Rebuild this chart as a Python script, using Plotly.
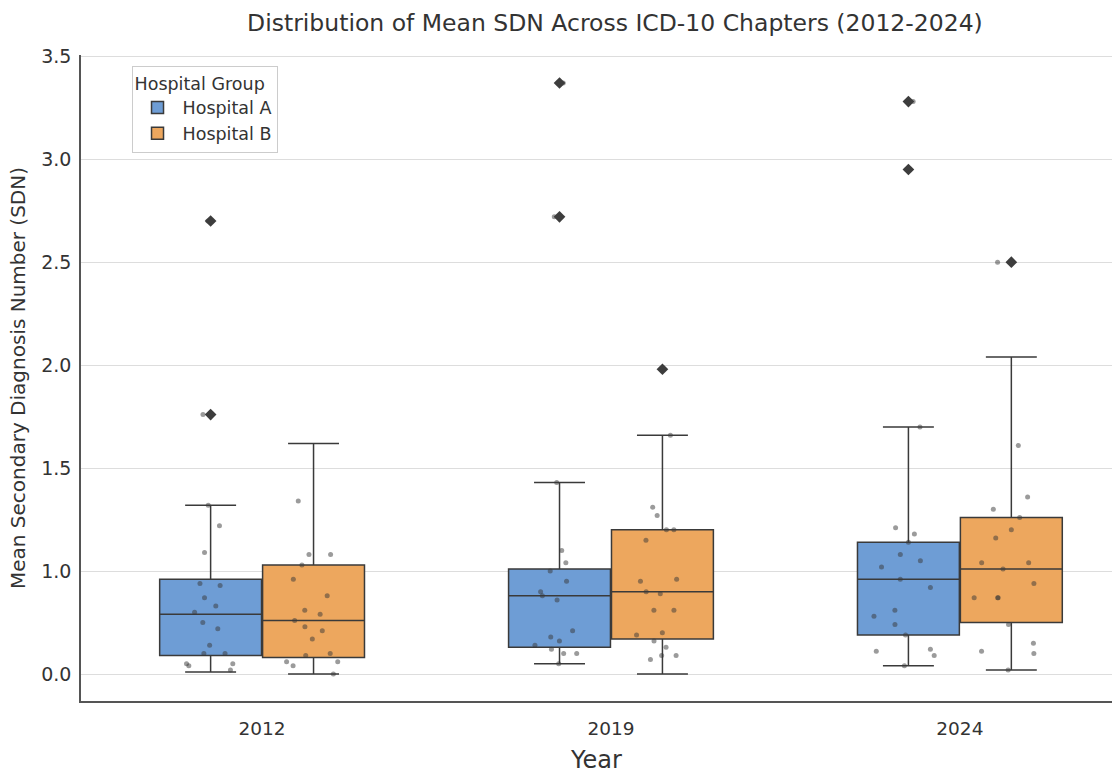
import plotly.graph_objects as go

# Years on the x axis
years = ["2012", "2019", "2024"]

# Box statistics per hospital, one value per year
a_q1 = [0.59, 0.63, 0.69]
a_median = [0.79, 0.88, 0.96]
a_q3 = [0.96, 1.01, 1.14]
a_lower = [0.51, 0.55, 0.54]
a_upper = [1.32, 1.43, 1.70]

b_q1 = [0.58, 0.67, 0.75]
b_median = [0.76, 0.90, 1.01]
b_q3 = [1.03, 1.20, 1.26]
b_lower = [0.50, 0.50, 0.52]
b_upper = [1.62, 1.66, 2.04]

# Chapter-level mean SDN values (strip points)
a_2012 = [1.32, 1.22, 1.09, 0.93, 0.94, 0.87, 0.83, 0.80, 0.75, 0.72,
          0.64, 0.60, 0.60, 0.55, 0.55, 0.54, 0.52, 1.76, 2.70]
a_2019 = [1.43, 1.10, 1.04, 1.00, 0.95, 0.90, 0.88, 0.86, 0.71, 0.68,
          0.66, 0.64, 0.62, 0.60, 0.60, 0.55, 2.72, 3.37]
a_2024 = [1.70, 1.21, 1.18, 1.14, 1.08, 1.05, 1.02, 0.96, 0.92, 0.81,
          0.78, 0.74, 0.69, 0.62, 0.61, 0.59, 0.54, 3.28]

b_2012 = [1.34, 1.08, 1.08, 1.03, 0.96, 0.88, 0.81, 0.79, 0.76, 0.73,
          0.71, 0.67, 0.60, 0.59, 0.56, 0.56, 0.54, 0.50]
b_2019 = [1.66, 1.31, 1.27, 1.20, 1.20, 1.15, 0.95, 0.96, 0.90, 0.89,
          0.81, 0.81, 0.69, 0.70, 0.66, 0.63, 0.59, 0.59, 0.57]
b_2024 = [1.61, 1.36, 1.30, 1.26, 1.20, 1.16, 1.04, 1.04, 1.01, 0.94,
          0.87, 0.87, 0.87, 0.74, 0.65, 0.61, 0.60, 0.52, 2.50]

# Outliers flagged by the box plot
a_out_2012 = [1.76, 2.70]
a_out_2019 = [2.72, 3.37]
a_out_2024 = [2.95, 3.28]
b_out_2012 = []
b_out_2019 = [1.98]
b_out_2024 = [2.50]

# Y tick labels
y_tickvals = [0.5, 1.0, 1.5, 2.0, 2.5, 3.0, 3.5]
y_ticktext = ["0.0", "1.0", "1.5", "2.0", "2.5", "3.0", "3.5"]

BLUE = "#6e9dd5"
ORANGE = "#eda75e"
EDGE = "#3a3a3a"
FONT = "DejaVu Sans"
TEXT = "#333333"

fig = go.Figure()

groups = [
    dict(name="Hospital A", color=BLUE, q1=a_q1, med=a_median, q3=a_q3,
         lo=a_lower, hi=a_upper, pts=[a_2012, a_2019, a_2024],
         out=[a_out_2012, a_out_2019, a_out_2024]),
    dict(name="Hospital B", color=ORANGE, q1=b_q1, med=b_median, q3=b_q3,
         lo=b_lower, hi=b_upper, pts=[b_2012, b_2019, b_2024],
         out=[b_out_2012, b_out_2019, b_out_2024]),
]


def flatten(per_year):
    xs, ys = [], []
    for yr, vals in zip(years, per_year):
        xs += [yr] * len(vals)
        ys += vals
    return xs, ys


# Boxes from precomputed statistics
for g in groups:
    fig.add_trace(go.Box(
        name=g["name"], x=years, q1=g["q1"], median=g["med"], q3=g["q3"],
        lowerfence=g["lo"], upperfence=g["hi"],
        boxpoints=False, offsetgroup=g["name"],
        fillcolor=g["color"], line=dict(color=EDGE, width=1.5),
        whiskerwidth=0.5, showlegend=True,
    ))

# Jittered strip points, drawn over the boxes
for g in groups:
    xs, ys = flatten(g["pts"])
    fig.add_trace(go.Box(
        name=g["name"], x=xs, y=ys, offsetgroup=g["name"],
        boxpoints="all", jitter=0.75, pointpos=0,
        fillcolor="rgba(0,0,0,0)", line=dict(width=0, color="rgba(0,0,0,0)"),
        marker=dict(color="rgba(55,55,55,0.5)", size=5),
        showlegend=False, hoverinfo="y",
    ))

# Outlier diamonds at the box centres
for g in groups:
    xs, ys = flatten(g["out"])
    fig.add_trace(go.Box(
        name=g["name"], x=xs, y=ys, offsetgroup=g["name"],
        boxpoints="all", jitter=0, pointpos=0,
        fillcolor="rgba(0,0,0,0)", line=dict(width=0, color="rgba(0,0,0,0)"),
        marker=dict(color="#3d3d3d", size=9, symbol="diamond"),
        showlegend=False, hoverinfo="y",
    ))

fig.update_layout(
    width=1112, height=774,
    margin=dict(l=81, r=0, t=55, b=73),
    paper_bgcolor="white", plot_bgcolor="white",
    font=dict(family=FONT, color=TEXT, size=17),
    boxmode="group", boxgap=0.41, boxgroupgap=0.01,
    title=dict(
        text="Distribution of Mean SDN Across ICD-10 Chapters (2012-2024)",
        x=0.553, xanchor="center", y=0.971, yanchor="middle",
        font=dict(size=23.5, color=TEXT),
    ),
    legend=dict(
        title=dict(text="Hospital Group", font=dict(size=17.5)),
        x=0.049, y=0.983, xanchor="left", yanchor="top",
        bgcolor="rgba(255,255,255,0.9)", bordercolor="#cccccc", borderwidth=1,
        font=dict(size=17.5), tracegroupgap=2, itemwidth=40,
    ),
    xaxis=dict(
        type="category", range=[-0.519, 2.436],
        showgrid=False, showline=True, linecolor="#555555", linewidth=1.5,
        ticks="", ticklabelstandoff=10, tickfont=dict(size=18.5, color=TEXT),
        title=dict(text="Year", font=dict(size=24, color=TEXT), standoff=13),
    ),
    yaxis=dict(
        range=[0.369, 3.506], tickvals=y_tickvals, ticktext=y_ticktext,
        showgrid=True, gridcolor="#dddddd", gridwidth=1, zeroline=False,
        showline=True, linecolor="#555555", linewidth=1.5,
        ticks="", ticklabelstandoff=4, tickfont=dict(size=19, color=TEXT),
        title=dict(text="Mean Secondary Diagnosis Number (SDN)",
                   font=dict(size=20, color=TEXT), standoff=10),
    ),
)

fig.write_html("out.html")
